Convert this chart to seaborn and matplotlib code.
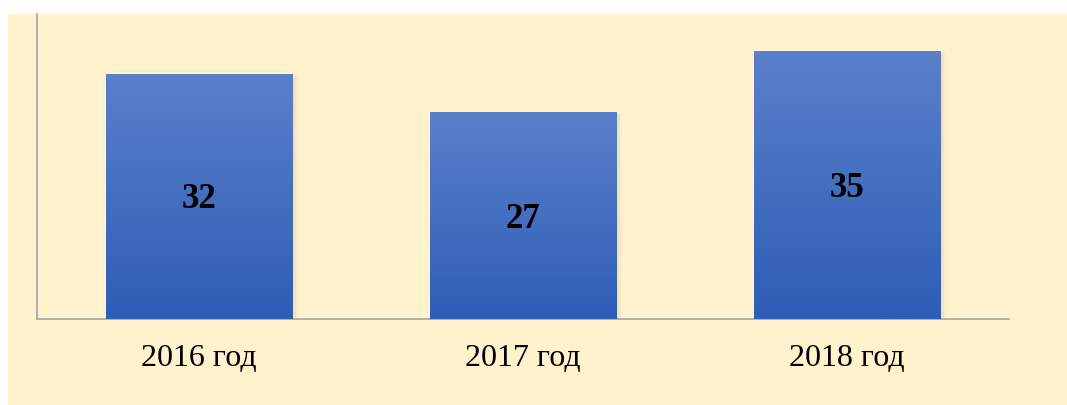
import numpy as np
import pandas as pd
import matplotlib
matplotlib.use("Agg")
import matplotlib.pyplot as plt
import matplotlib.patches as mpatches
from matplotlib.colors import LinearSegmentedColormap
import seaborn as sns

# data
years = ["2016 год", "2017 год", "2018 год"]
counts = [32, 27, 35]

sns.set_theme(style="white")
plt.rcParams['font.family'] = ['Liberation Serif', 'DejaVu Serif']

bg = "#FFF2CC"
fig = plt.figure(figsize=(10.67, 4.05), dpi=100, facecolor="white")
# yellow chart area (white margin at left and top like the original)
fig.patches.append(mpatches.Rectangle((8/1067, 0), 1, (405-14)/405, transform=fig.transFigure,
                                      facecolor=bg, edgecolor="none", zorder=-10))
ax = fig.add_axes([37/1067, (405-319)/405, (1009-37)/1067, (319-14)/405])
ax.set_facecolor(bg)
ax.patch.set_alpha(0)

df = pd.DataFrame({"year": years, "count": counts})
sns.barplot(data=df, x="year", y="count", color="#4472C4", width=0.575, ax=ax, zorder=2)

# vertical gradient on bars + soft shadow
cmap = LinearSegmentedColormap.from_list("bluegrad", ["#2E5DB6", "#5B80CA"])
grad = np.linspace(0, 1, 256).reshape(-1, 1)
for bar in list(ax.patches):
    x0, y0 = bar.get_x(), bar.get_y()
    w, h = bar.get_width(), bar.get_height()
    for k, a in enumerate([0.10, 0.06, 0.03]):
        d = 0.006 * (k + 1)
        ax.add_patch(mpatches.Rectangle((x0 + d, y0), w, h - 0.1 * (k + 1), facecolor="#7a6a40",
                                        edgecolor="none", alpha=a, zorder=1))
    im = ax.imshow(grad, extent=[x0, x0 + w, y0, y0 + h], origin="lower", cmap=cmap,
                   aspect="auto", zorder=3)
    im.set_clip_path(bar)
    bar.set_facecolor("none")
    # value label: digits centred vertically in the bar
    ax.annotate(str(int(h)), (x0 + w / 2, y0 + h / 2), xytext=(0, -12), textcoords="offset pixels",
                ha="center", va="baseline", fontsize=25, fontweight="bold", color="black", zorder=4)

ax.set_xlim(-0.5, 2.5)
ax.set_ylim(0, 39.8)
ax.set_xlabel("")
ax.set_ylabel("")
ax.set_yticks([])
ax.tick_params(axis="x", length=0, pad=18, labelsize=23, colors="black")
for s in ["top", "right"]:
    ax.spines[s].set_visible(False)
for s in ["left", "bottom"]:
    ax.spines[s].set_color("#A6A6A6")
    ax.spines[s].set_linewidth(1.2)

fig.savefig("out.png", dpi=100, facecolor="white")
